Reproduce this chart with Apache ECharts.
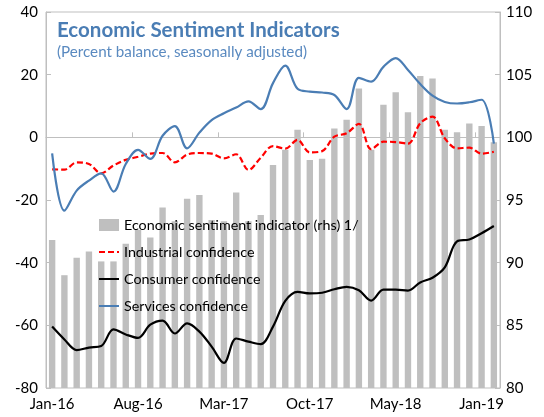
<!DOCTYPE html>
<html>
<head>
<meta charset="utf-8">
<script src="https://cdn.jsdelivr.net/npm/echarts@6/dist/echarts.min.js"></script>
<style>
  html, body { margin: 0; padding: 0; background: #fff; }
  #chart { width: 544px; height: 417px; }
</style>
</head>
<body>
<div id="chart"></div>
<script>
// months Jan-16 .. Jan-19
var months = ['Jan-16', 'Feb-16', 'Mar-16', 'Apr-16', 'May-16', 'Jun-16', 'Jul-16', 'Aug-16', 'Sep-16', 'Oct-16', 'Nov-16', 'Dec-16',
  'Jan-17', 'Feb-17', 'Mar-17', 'Apr-17', 'May-17', 'Jun-17', 'Jul-17', 'Aug-17', 'Sep-17', 'Oct-17', 'Nov-17', 'Dec-17',
  'Jan-18', 'Feb-18', 'Mar-18', 'Apr-18', 'May-18', 'Jun-18', 'Jul-18', 'Aug-18', 'Sep-18', 'Oct-18', 'Nov-18', 'Dec-18', 'Jan-19']
// labels shown every 7th month
var tickLabels = ['Jan-16', 'Aug-16', 'Mar-17', 'Oct-17', 'May-18', 'Jan-19']

// Economic sentiment indicator (rhs)
var sentiment = [91.8, 89.0, 90.4, 90.9, 90.1, 90.1, 91.5, 92.6, 92.0, 94.4,
  93.3, 95.1, 95.4, 93.4, 93.3, 95.6, 93.3, 93.8, 97.8, 99.0,
  100.6, 98.2, 98.3, 100.7, 101.4, 103.9, 99.0, 102.6, 103.6, 102.0,
  104.9, 104.7, 100.6, 100.4, 101.1, 100.9, 99.6]
var industrial = [-10.2, -10.3, -8.0, -8.5, -11.5, -9.0, -7.2, -6.2, -5.2, -5.0,
  -8.0, -5.5, -5.0, -5.2, -6.7, -5.4, -10.4, -6.5, -2.8, -3.6,
  -0.8, -4.8, -4.4, 0.2, 1.3, 4.3, -3.8, -1.4, -1.5, -2.0,
  4.5, 6.6, -0.3, -3.5, -3.3, -5.2, -4.6]
var consumer = [-60.4, -64.5, -67.9, -67.1, -66.6, -61.3, -62.9, -64.0, -59.8, -58.5,
  -62.6, -59.4, -62.0, -66.8, -72.0, -64.2, -65.2, -66.0, -60.4, -52.2,
  -49.3, -49.8, -49.6, -48.5, -47.7, -48.8, -52.1, -48.6, -48.6, -48.9,
  -46.3, -44.8, -41.5, -33.2, -32.6, -30.6, -28.3]
var services = [-5.1, -23.4, -17.0, -13.8, -11.5, -17.3, -8.5, -4.0, -6.9, 0.5,
  3.6, -3.5, 1.5, 5.5, 7.7, 9.5, 11.5, 9.0, 17.3, 22.9,
  15.5, 14.6, 14.3, 13.5, 9.0, 19.0, 17.8, 22.5, 25.3, 21.5,
  17.0, 13.3, 11.3, 10.8, 11.2, 12.0, -2.0]

var font = 'Lato, "Open Sans", sans-serif'
var gray = '#bfbfbf'
var blue = '#4a7db4'
// hide the round marker in the legend line icons
var noMarker = { opacity: 0 }

var chart = echarts.init(document.getElementById('chart'))
var option = {
  animation: false,
  textStyle: { fontFamily: font },
  title: {
    text: 'Economic Sentiment Indicators',
    subtext: '(Percent balance, seasonally adjusted)',
    left: 57,
    top: 20,
    padding: 0,
    itemGap: 4,
    textStyle: { fontFamily: font, fontSize: 20.5, fontWeight: 'bold', color: blue },
    subtextStyle: { fontFamily: font, fontSize: 15.2, color: '#5a8ac0' }
  },
  legend: {
    orient: 'vertical',
    left: 93,
    top: 213,
    itemWidth: 20,
    itemHeight: 12,
    itemGap: 13,
    textStyle: { fontFamily: font, fontSize: 14.3, lineHeight: 14, color: '#000' },
    data: [
      { name: 'Economic sentiment indicator (rhs) 1/', icon: 'rect' },
      { name: 'Industrial confidence', itemStyle: noMarker },
      { name: 'Consumer confidence', itemStyle: noMarker },
      { name: 'Services confidence', itemStyle: noMarker }
    ]
  },
  grid: { left: 46, right: 44, top: 12, bottom: 29, show: true, borderColor: gray, borderWidth: 1 },
  xAxis: [
    {
      type: 'category',
      data: months,
      position: 'bottom',
      axisLine: { show: false, onZero: false },
      axisTick: { show: false },
      axisLabel: {
        interval: function (i) { return i % 7 === 0 },
        formatter: function (v, i) { return tickLabels[i / 7] },
        fontFamily: font,
        fontSize: 15,
        color: '#000',
        margin: 9
      }
    },
    {
      // zero line with ticks
      type: 'category',
      data: months,
      position: 'bottom',
      axisLine: { show: true, onZero: true, onZeroAxisIndex: 0, lineStyle: { color: gray } },
      axisTick: { show: true, interval: 6, inside: true, length: 5, lineStyle: { color: gray } },
      axisLabel: { show: false }
    }
  ],
  yAxis: [
    {
      type: 'value',
      min: -80,
      max: 40,
      interval: 20,
      position: 'left',
      axisLine: { show: true, lineStyle: { color: gray } },
      axisTick: { show: true, inside: true, length: 5, lineStyle: { color: gray } },
      splitLine: { show: false },
      axisLabel: { fontFamily: font, fontSize: 15, color: '#000', margin: 8 }
    },
    {
      type: 'value',
      min: 80,
      max: 110,
      interval: 5,
      position: 'right',
      axisLine: { show: true, lineStyle: { color: gray } },
      axisTick: { show: true, inside: true, length: 5, lineStyle: { color: gray } },
      splitLine: { show: false },
      axisLabel: { fontFamily: font, fontSize: 15, color: '#000', margin: 6 }
    }
  ],
  series: [
    {
      name: 'Economic sentiment indicator (rhs) 1/',
      type: 'bar',
      xAxisIndex: 0,
      yAxisIndex: 1,
      barWidth: '52%',
      itemStyle: { color: gray },
      data: sentiment
    },
    {
      name: 'Industrial confidence',
      type: 'line',
      yAxisIndex: 0,
      smooth: 0.35,
      symbol: 'none',
      itemStyle: { color: '#ff0000' },
      lineStyle: { color: '#ff0000', width: 2.2, type: [6, 3] },
      data: industrial
    },
    {
      name: 'Consumer confidence',
      type: 'line',
      yAxisIndex: 0,
      smooth: 0.35,
      symbol: 'none',
      itemStyle: { color: '#000' },
      lineStyle: { color: '#000', width: 2.2 },
      data: consumer
    },
    {
      name: 'Services confidence',
      type: 'line',
      yAxisIndex: 0,
      smooth: 0.35,
      symbol: 'none',
      itemStyle: { color: blue },
      lineStyle: { color: blue, width: 2.2 },
      data: services
    }
  ]
}
chart.setOption(option)
</script>
</body>
</html>
